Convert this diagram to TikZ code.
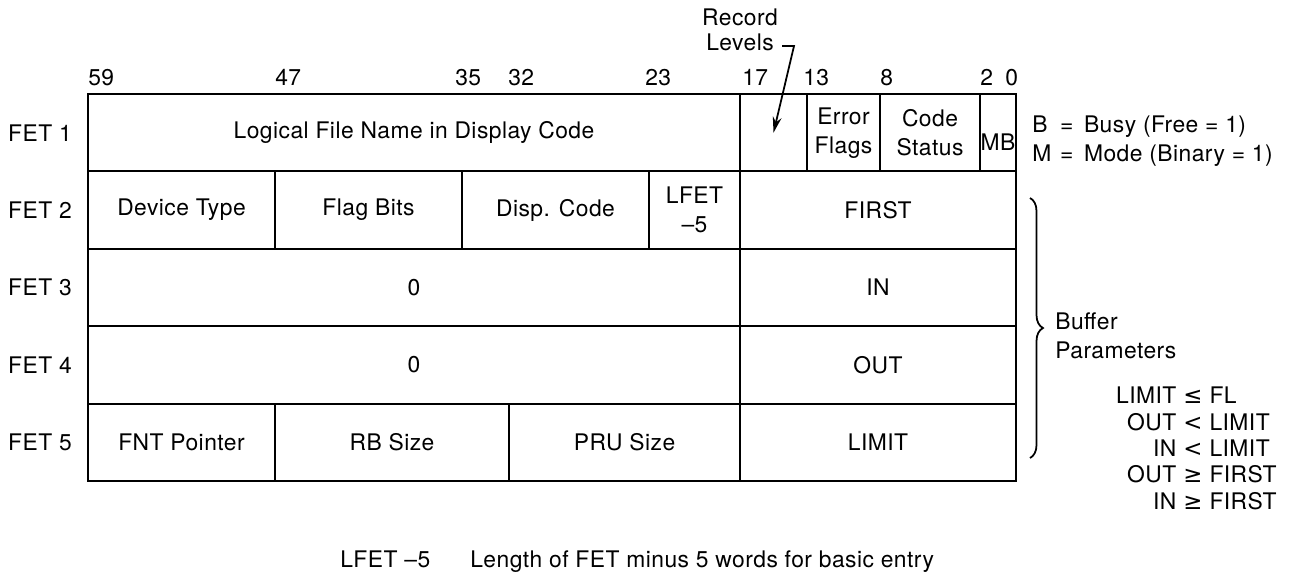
\documentclass[tikz,border=0pt]{standalone}
\usepackage{fontspec}
\setmainfont{TeX Gyre Heros}[LetterSpace=2]
\newfontfamily\symfont{DejaVu Sans}
\usepackage{tikz}
\usetikzlibrary{arrows.meta, calc, decorations.pathreplacing}
\newcommand{\fetfont}{\fontsize{13}{16.5}\selectfont}
\tikzset{
  field/.style 2 args={rectangle, draw=black, line width=1.2pt, inner sep=0pt,
    minimum width=#1*0.02cm, minimum height=#2*0.02cm,
    align=center, font=\fetfont},
  lbl/.style={inner sep=0pt, font=\fetfont},
  arrow/.style={-{Stealth[length=9pt, width=5pt]}, line width=1pt, color=black},
  bracket/.style={decorate, decoration={brace, amplitude=0.26cm, aspect=0.5}, line width=1pt}
}

\begin{document}
\begin{tikzpicture}[x=0.02cm, y=-0.02cm]
  \useasboundingbox (0,0) rectangle (1291,579);

  % word FET 1
  \node[field={652}{77.4}] (lfn) at (414,132.7) {Logical File Name in Display Code};
  \node[field={67}{77.4}] (reclev) at (773.5,132.7) {};
  \node[field={73}{77.4}] (errfl) at (843.5,132.7) {Error\\Flags};
  \node[field={100}{77.4}] (codest) at (930,132.7) {Code\\Status};
  \node[field={36}{77.4}, text height=20pt, text depth=0pt] (mb) at (998,132.7) {MB};

  % word FET 2
  \node[field={187}{77.4}] (devtype) at (181.5,210.1) {Device Type};
  \node[field={187}{77.4}] (flagbits) at (368.5,210.1) {Flag Bits};
  \node[field={187}{77.4}] (dispcode) at (555.5,210.1) {Disp. Code};
  \node[field={91}{77.4}] (lfet) at (694.5,210.1) {LFET\\–5};
  \node[field={276}{77.4}] (first) at (878,210.1) {FIRST};

  % word FET 3
  \node[field={652}{77.4}] (zeroA) at (414,287.5) {0};
  \node[field={276}{77.4}] (in) at (878,287.5) {IN};

  % word FET 4
  \node[field={652}{77.4}] (zeroB) at (414,364.9) {0};
  \node[field={276}{77.4}] (out) at (878,364.9) {OUT};

  % word FET 5
  \node[field={187}{77.4}] (fntptr) at (181.5,442.3) {FNT Pointer};
  \node[field={234}{77.4}] (rbsize) at (392,442.3) {RB Size};
  \node[field={231}{77.4}] (prusize) at (624.5,442.3) {PRU Size};
  \node[field={276}{77.4}] (limit) at (878,442.3) {LIMIT};

  % row names
  \foreach \n/\y in {1/132.7, 2/210.1, 3/287.5, 4/364.9, 5/442.3}
    \node[lbl] (fet\n) at (40,\y) {FET \n};

  % bit positions
  \foreach \x/\b in {88/59, 275/47, 455/35, 508/32, 645/23, 742/17, 803/13, 880/8, 980/2, 1005/0}
    \node[lbl, anchor=base west] (bit\b) at (\x,85) {\b};

  % record levels pointer
  \node[lbl, align=center, font=\fontsize{13}{14.5}\selectfont] (reclbl) at (740,30) {Record\\Levels};
  \coordinate (hook) at (794,46);
  \draw[arrow] ($(reclbl.east |- hook)+(4,0)$) -- (hook) -- (reclev.center);

  % mode bits
  \node[lbl, anchor=north west] (mbkey) at (1032,112) {%
    \begin{tabular}{@{}l@{\hspace{5pt}}c@{\hspace{6pt}}l@{}}
      B & = & Busy (Free = 1)\\
      M & = & Mode (Binary = 1)
    \end{tabular}};

  % buffer parameters
  \coordinate (brtop) at (1030,198);
  \coordinate (brbot) at (1030,458);
  \draw[bracket] (brtop) -- (brbot);
  \node[lbl, align=left, anchor=west] (bufpar) at (1055,335.5) {Buffer\\Parameters};
  \node[lbl, anchor=north east, font=\fontsize{13}{15}\selectfont] (ineq) at (1277,385) {%
    \begin{tabular}{@{}r@{\hspace{4pt}}c@{\hspace{4pt}}l@{}}
      LIMIT & {\symfont ≤} & FL\\
      OUT & {\symfont <} & LIMIT\\
      IN & {\symfont <} & LIMIT\\
      OUT & {\symfont ≥} & FIRST\\
      IN & {\symfont ≥} & FIRST
    \end{tabular}};

  % footnote
  \node[lbl, anchor=base west] (notekey) at (340,567) {LFET –5};
  \node[lbl, anchor=base west] (notetext) at (470,567) {Length of FET minus 5 words for basic entry};
\end{tikzpicture}
\end{document}
